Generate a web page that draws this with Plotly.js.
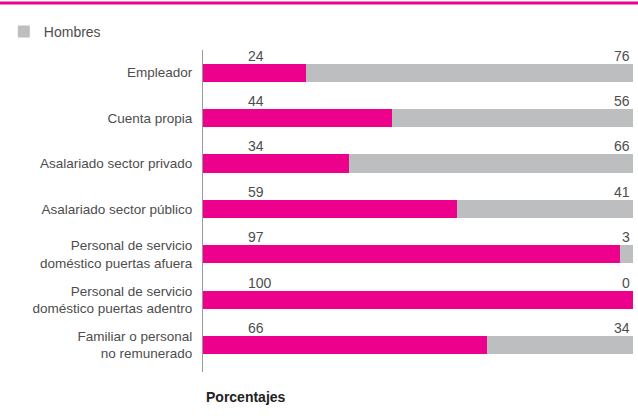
<!DOCTYPE html>
<html>
<head>
<meta charset="utf-8">
<script src="https://cdn.plot.ly/plotly-3.0.1.min.js"></script>
<style>html,body{margin:0;padding:0;background:#fff;}</style>
</head>
<body>
<div id="chart" style="width:638px;height:418px;"></div>
<script>
const categories = [
  "Empleador",
  "Cuenta propia",
  "Asalariado sector privado",
  "Asalariado sector público",
  "Personal de servicio<br>doméstico puertas afuera",
  "Personal de servicio<br>doméstico puertas adentro",
  "Familiar o personal<br>no remunerado"
];
const mujeres = [24, 44, 34, 59, 97, 100, 66];
const hombres = [76, 56, 66, 41, 3, 0, 34];

const magenta = "#EC008C";
const gris = "#BDBEC0";
const textColor = "#4d4d4d";
const fontFam = "Liberation Sans, Arial, sans-serif";

const traces = [
  {type: "bar", orientation: "h", name: "Mujeres", y: categories, x: mujeres,
   marker: {color: magenta}, width: 0.4, showlegend: false, hoverinfo: "x"},
  {type: "bar", orientation: "h", name: "Hombres", y: categories, x: hombres,
   marker: {color: gris}, width: 0.4, hoverinfo: "x"}
];

const annotations = [];
categories.forEach((c, i) => {
  annotations.push({x: 10, y: c, xref: "x", yref: "y", text: String(mujeres[i]),
    showarrow: false, xanchor: "left", yanchor: "middle", yshift: 17,
    font: {size: 14, color: textColor, family: fontFam}});
  annotations.push({x: 100, y: c, xref: "x", yref: "y", text: String(hombres[i]),
    showarrow: false, xanchor: "right", yanchor: "middle", yshift: 17, xshift: -1,
    font: {size: 14, color: textColor, family: fontFam}});
});
annotations.push({x: 0, y: 0, xref: "paper", yref: "paper", text: "<b>Porcentajes</b>",
  showarrow: false, xanchor: "left", yanchor: "middle", yshift: -25, xshift: 1,
  font: {size: 14, color: "#222", family: fontFam}});

const layout = {
  width: 638, height: 418,
  margin: {l: 203, r: 5, t: 50, b: 46},
  barmode: "stack",
  paper_bgcolor: "#fff", plot_bgcolor: "#fff",
  font: {family: fontFam, size: 13.5, color: textColor},
  xaxis: {range: [0, 100], visible: false, fixedrange: true, automargin: false},
  yaxis: {autorange: "reversed", showline: true, linecolor: "#999", linewidth: 1,
    showgrid: false, zeroline: false, ticks: "", ticklabelstandoff: 7, automargin: false,
    tickfont: {size: 13.5, color: textColor, family: fontFam}},
  showlegend: true,
  legend: {orientation: "h", xref: "container", yref: "container",
    x: 0.006, xanchor: "left", y: 1 - 32/418, yanchor: "middle",
    font: {size: 14, color: textColor, family: fontFam}, itemwidth: 30, traceorder: "normal"},
  annotations: annotations,
  shapes: [{type: "line", xref: "paper", yref: "paper", x0: -0.48, x1: 1.02,
    y0: 1 + 47/322, y1: 1 + 47/322, line: {color: magenta, width: 3}}]
};

Plotly.newPlot("chart", traces, layout, {displayModeBar: false, staticPlot: true});
</script>
</body>
</html>
